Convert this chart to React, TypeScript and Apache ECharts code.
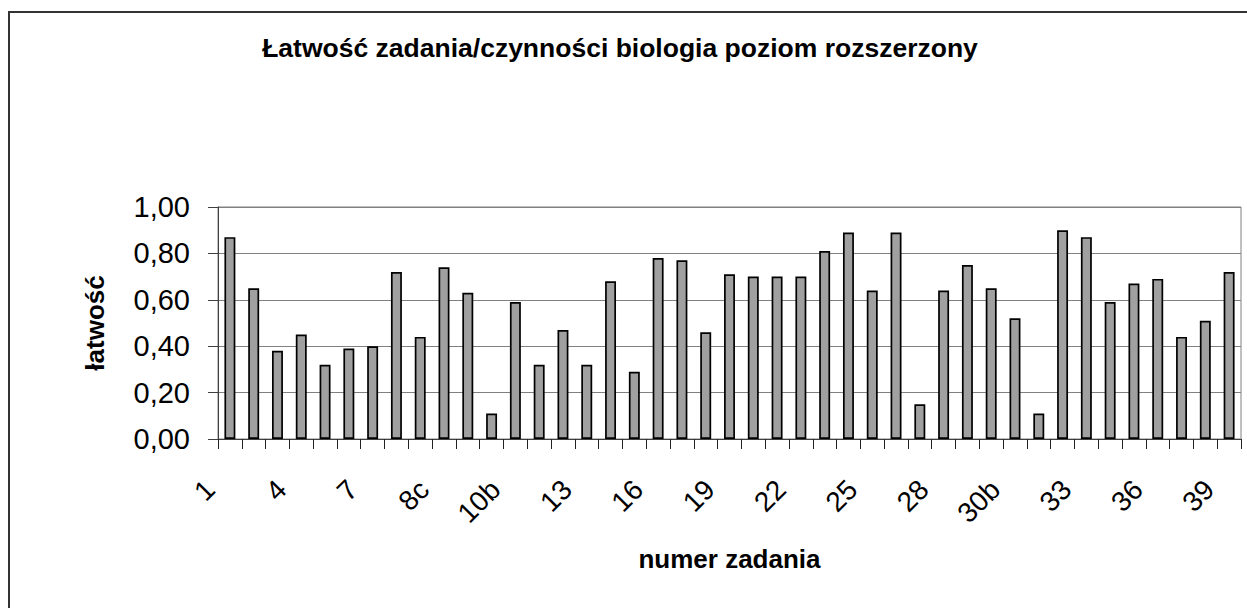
import React, { useEffect, useRef } from "react";
import * as echarts from "echarts";

const categories: string[] = [
  "1", "2", "3", "4", "5", "6", "7", "8a", "8b", "8c", "9", "10a", "10b", "11",
  "12", "13", "14", "15", "16", "17", "18", "19", "20", "21", "22", "23", "24",
  "25", "26", "27", "28", "29", "30a", "30b", "31", "32", "33", "34", "35", "36",
  "37", "38", "39",
];

const latwosc: number[] = [
  0.87, 0.65, 0.38, 0.45, 0.32, 0.39, 0.40, 0.72, 0.44, 0.74, 0.63, 0.11, 0.59,
  0.32, 0.47, 0.32, 0.68, 0.29, 0.78, 0.77, 0.46, 0.71, 0.70, 0.70, 0.70, 0.81,
  0.89, 0.64, 0.89, 0.15, 0.64, 0.75, 0.65, 0.52, 0.11, 0.90, 0.87, 0.59, 0.67,
  0.69, 0.44, 0.51, 0.72,
];

const titleText = "Łatwość zadania/czynności biologia poziom rozszerzony";
const xName = "numer zadania";
const yName = "łatwość";

const FONT = "'Liberation Sans', Arial, sans-serif";

export default function App() {
  const ref = useRef<HTMLDivElement>(null);
  useEffect(() => {
    if (!ref.current) return;
    const chart = echarts.init(ref.current, undefined, { renderer: "svg" });
    chart.setOption({
      animation: false,
      backgroundColor: "#ffffff",
      textStyle: { fontFamily: FONT },
      title: {
        text: titleText,
        left: 615,
        top: 29,
        textAlign: "center",
        textStyle: { fontFamily: FONT, fontSize: 26.5, fontWeight: "bold", color: "#000" },
      },
      graphic: [
        {
          type: "rect",
          shape: { x: 9, y: 12, width: 1400, height: 800 },
          style: { fill: "none", stroke: "#333", lineWidth: 2 },
          silent: true,
        },
      ],
      grid: {
        left: 218,
        right: 6,
        top: 207,
        bottom: 169,
        show: true,
        borderColor: "#808080",
        borderWidth: 1,
        backgroundColor: "transparent",
      },
      xAxis: {
        type: "category",
        data: categories,
        name: xName,
        nameLocation: "middle",
        nameGap: 107,
        nameTextStyle: { fontFamily: FONT, fontSize: 26, fontWeight: "bold", color: "#000" },
        axisLine: { lineStyle: { color: "#404040", width: 1 } },
        axisTick: { show: true, interval: 0, length: 10, lineStyle: { color: "#222" } },
        axisLabel: {
          interval: 2,
          rotate: 45,
          margin: 26,
          padding: [0, 28, 0, 0],
          fontFamily: FONT,
          fontSize: 28,
          color: "#000",
        },
        splitLine: { show: false },
      },
      yAxis: {
        type: "value",
        min: 0,
        max: 1,
        interval: 0.2,
        name: yName,
        nameLocation: "middle",
        nameGap: 110,
        nameRotate: 90,
        nameTextStyle: { fontFamily: FONT, fontSize: 26, fontWeight: "bold", color: "#000" },
        axisLine: { show: true, lineStyle: { color: "#404040", width: 1 } },
        axisTick: { show: true, length: 10, lineStyle: { color: "#404040" } },
        axisLabel: {
          margin: 28,
          fontFamily: FONT,
          fontSize: 29,
          color: "#000",
          formatter: (v: number) => v.toFixed(2).replace(".", ","),
        },
        splitLine: { show: true, lineStyle: { color: "#808080", width: 1 } },
      },
      series: [
        {
          type: "bar",
          data: latwosc,
          barWidth: "46%",
          itemStyle: { color: "#a0a0a0", borderColor: "#000", borderWidth: 1.7 },
        },
      ],
    });
    return () => chart.dispose();
  }, []);
  return (
    <div
      ref={ref}
      style={{ position: "fixed", left: 0, top: 0, width: 1247, height: 608 }}
    />
  );
}
